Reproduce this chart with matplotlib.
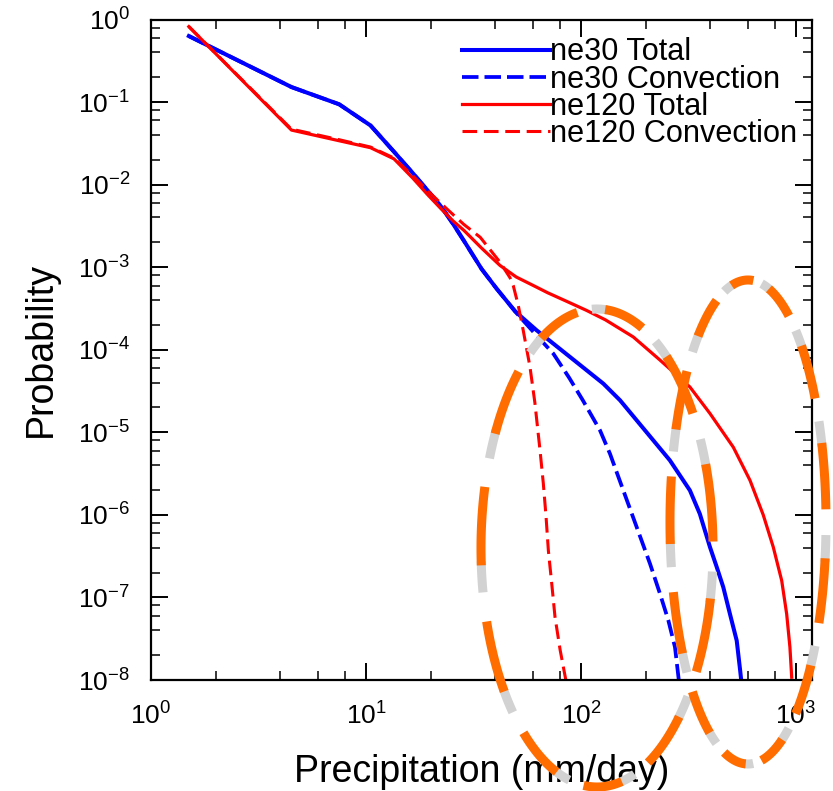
import numpy as np
import matplotlib
matplotlib.use('Agg')
import matplotlib.pyplot as plt
from matplotlib.lines import Line2D
from matplotlib.ticker import LogLocator, NullFormatter

plt.rcParams['font.family'] = 'Liberation Sans'
plt.rcParams['axes.unicode_minus'] = False

# --- Data ---
ne30_total_x = [1.5, 4.5, 7.5, 10.5, 13.5, 16.5, 19.5, 22.5, 25.5, 28.5, 34.5, 40.5, 49.5,
                62.2, 88.9, 127, 152, 259, 321, 357, 398, 428, 459, 493, 530, 550, 556]
ne30_total_y = [0.63, 0.152, 0.094, 0.052, 0.025, 0.0138, 0.0083, 0.0053, 0.0033, 0.0021,
                9.5e-4, 5.5e-4, 2.9e-4, 1.72e-4, 8.18e-5, 3.89e-5, 2.44e-5, 4.58e-6,
                1.98e-6, 1.03e-6, 4.07e-7, 2.33e-7, 1.33e-7, 6.3e-8, 3.0e-8, 1.3e-8, 1.0e-8]

ne30_conv_x = [1.5, 4.5, 7.5, 10.5, 13.5, 16.5, 19.5, 22.5, 25.5, 28.5, 34.5, 40.5, 49.5,
               52, 62, 74.3, 88, 102, 122.5, 136.4, 157.3, 181.6, 209.4, 233, 254.7,
               273.6, 285]
ne30_conv_y = [0.63, 0.152, 0.094, 0.052, 0.025, 0.0138, 0.0083, 0.0053, 0.0033, 0.0021,
               9.5e-4, 5.5e-4, 2.9e-4, 2.5e-4, 1.5e-4, 9e-5, 4.6e-5, 2.44e-5, 1.06e-5,
               5.5e-6, 1.98e-6, 7.1e-7, 2.56e-7, 1.11e-7, 5.3e-8, 2.5e-8, 1.0e-8]

ne120_total_x = [1.5, 4.5, 7.5, 10.5, 13.5, 16.5, 19.5, 22.5, 25.5, 28.5, 34.5, 42, 50, 60,
                 70, 85, 106, 130, 175, 233, 321, 398, 511, 611, 704, 784, 858, 905, 937, 955]
ne120_total_y = [0.82, 0.0458, 0.034, 0.028, 0.0205, 0.012, 0.0074, 0.005, 0.0036, 0.0028,
                 0.0017, 1.05e-3, 7.6e-4, 6.0e-4, 4.9e-4, 3.9e-4, 3.0e-4, 2.3e-4, 1.43e-4,
                 7.5e-5, 3.54e-5, 1.69e-5, 6.6e-6, 2.62e-6, 1.0e-6, 4.07e-7, 1.6e-7,
                 6.3e-8, 2.5e-8, 1.08e-8]

ne120_conv_x = [1.5, 4.5, 7.5, 10.5, 13.5, 16.5, 19.5, 22.5, 25.5, 28.5, 34, 42, 46.7, 48.4,
                51, 53.9, 57.9, 61, 64.5, 66.8, 68.8, 70.5, 73.1, 75.7, 80, 85]
ne120_conv_y = [0.82, 0.047, 0.035, 0.0285, 0.021, 0.0128, 0.0083, 0.0058, 0.0043, 0.0033,
                0.0023, 1.15e-3, 7.5e-4, 6e-4, 3.5e-4, 1.7e-4, 6.2e-5, 2.3e-5, 6e-6, 2.4e-6,
                9.4e-7, 3.7e-7, 1.47e-7, 5.8e-8, 2.3e-8, 1.0e-8]

# --- Figure ---
W, H = 833, 791
fig = plt.figure(figsize=(W / 100, H / 100), dpi=100)
ax = fig.add_axes([151 / W, 1 - 680 / H, 661 / W, 660.5 / H])

ax.plot(ne30_total_x, ne30_total_y, color='blue', lw=2.9, label='ne30 Total')
ax.plot(ne30_conv_x, ne30_conv_y, color='blue', lw=2.7, dashes=(4.4, 1.6),
        label='ne30 Convection')
ax.plot(ne120_total_x, ne120_total_y, color='red', lw=2.3, label='ne120 Total')
ax.plot(ne120_conv_x, ne120_conv_y, color='red', lw=2.2, dashes=(4.8, 2.2),
        label='ne120 Convection')

ax.set_xscale('log')
ax.set_yscale('log')
ax.set_xlim(1, 1187)
ax.set_ylim(1e-8, 1)

for axis in (ax.xaxis, ax.yaxis):
    axis.set_major_locator(LogLocator(base=10, numticks=20))
    axis.set_minor_locator(LogLocator(base=10, subs=(2, 4, 6, 8), numticks=20))
    axis.set_minor_formatter(NullFormatter())

ax.tick_params(which='both', direction='in', top=True, right=True, labelsize=19)
ax.tick_params(which='major', length=12.2, width=1.4)
ax.tick_params(which='minor', length=6.5, width=1.1)
ax.tick_params(axis='x', pad=16)
ax.tick_params(axis='y', pad=15)
for s in ax.spines.values():
    s.set_linewidth(1.6)

ax.set_xlabel('Precipitation (mm/day)', fontsize=27)
ax.set_ylabel('Probability', fontsize=27)
ax.xaxis.set_label_coords(0.5, -0.112)
ax.yaxis.set_label_coords(-0.14, 0.5)

ax.legend(loc='upper left', bbox_to_anchor=((462 - 151) / 661, 0.973), frameon=False,
          fontsize=22.1, handlelength=2.87, handletextpad=0.0, labelspacing=-0.09,
          borderpad=0, borderaxespad=0)


# --- Dashed orange/gray ellipses (drawn in figure pixels) ---
def dashed_ellipse(cx, cy, a, b, n, phase_deg):
    period = 2 * np.pi / n
    for k in range(n):
        t0 = np.radians(phase_deg) + k * period
        for t_start, t_end, col, z in ((t0 + 0.55 * period, t0 + 0.78 * period, '#d2d2d2', 5),
                                       (t0, t0 + 0.58 * period, '#ff6c00', 6)):
            t = np.linspace(t_start, t_end, 40)
            xs = (cx + a * np.cos(t)) / W
            ys = 1 - (cy - b * np.sin(t)) / H
            fig.add_artist(Line2D(xs, ys, transform=fig.transFigure, color=col, lw=6.5,
                                  solid_capstyle='butt', zorder=z))


dashed_ellipse(597, 548, 116, 239, 11, 67)
dashed_ellipse(748, 522, 78, 242, 13, 3)

fig.savefig('out.png', dpi=100)
